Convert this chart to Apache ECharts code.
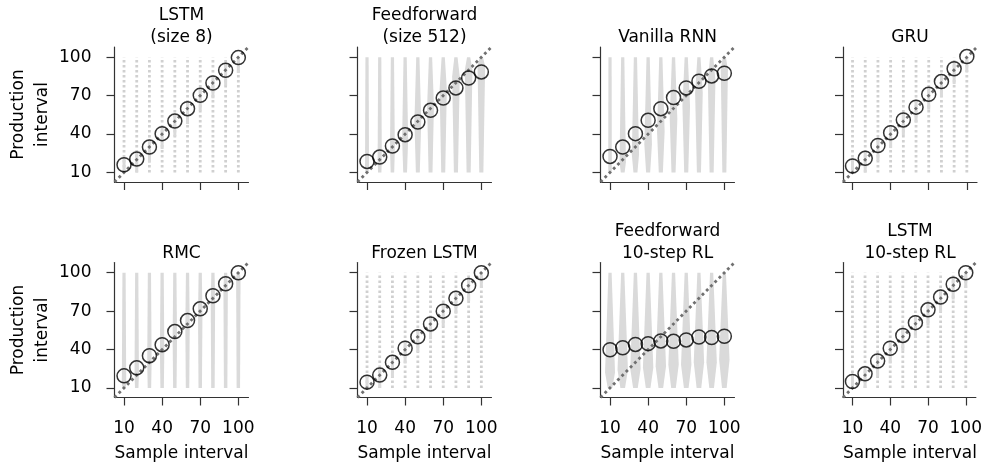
<!DOCTYPE html>
<html><head><meta charset="utf-8">
<script src="https://cdn.jsdelivr.net/npm/echarts@6/dist/echarts.min.js"></script>
<style>html,body{margin:0;padding:0;background:#fff}#c{width:985px;height:463px}</style>
</head><body><div id="c"></div>
<script>
// ---------------- data ----------------
const sampleIntervals = [10, 20, 30, 40, 50, 60, 70, 80, 90, 100];
const tickValues = [10, 40, 70, 100];
const axisRange = [2.5, 108];
const productionRange = [10, 100];
const titles = ['LSTM\n(size 8)', 'Feedforward\n(size 512)', 'Vanilla RNN', 'GRU',
                'RMC', 'Frozen LSTM', 'Feedforward\n10-step RL', 'LSTM\n10-step RL'];

const lstm8Means   = [16, 20.4, 29.8, 40.3, 50.1, 59.8, 70.2, 79.9, 89.8, 99.7];
const ff512Means   = [18.6, 22, 30.6, 39.5, 49.4, 58.5, 68.1, 76, 83.8, 88.5];
const vrnnMeans    = [22.5, 29.8, 40.3, 50.7, 59.8, 68.5, 76, 81.2, 85.4, 87.5];
const gruMeans     = [15, 21, 31, 41, 51, 61, 71, 81, 91, 100.5];
const rmcMeans     = [19.4, 25.7, 35.2, 43.8, 54, 62.6, 71.8, 82, 91.4, 100];
const frozenMeans  = [14.5, 20, 30, 41, 50, 60, 70, 80, 90, 100];
const ffRlMeans    = [39.8, 41.4, 44, 44.6, 46.7, 46.4, 47.5, 49.8, 49.4, 50.4];
const lstmRlMeans  = [15, 21, 31, 41, 51, 61, 71, 81, 91, 100];

// where the productions are densest, and how concentrated they are there (0..1)
const ff512Peaks   = [15, 20, 28, 36, 50, 62, 75, 85, 90, 93];
const ff512Spread  = [0.1, 0.12, 0.2, 0.35, 0.45, 0.45, 0.5, 0.55, 0.55, 0.55];
const vrnnPeaks    = [12, 18, 24, 32, 42, 52, 62, 72, 82, 90];
const vrnnSpread   = [0.05, 0.4, 0.5, 0.55, 0.55, 0.55, 0.55, 0.55, 0.55, 0.5];
const rmcPeaks     = [15, 21, 30, 39, 49, 58, 67, 77, 87, 95];
const rmcSpread    = [0.15, 0.15, 0.15, 0.15, 0.15, 0.15, 0.15, 0.15, 0.15, 0.15];
const ffRlPeaks    = [22, 24, 25, 26, 27, 28, 28, 30, 30, 32];
const ffRlSpread   = [0.85, 0.9, 0.9, 0.9, 0.9, 0.9, 0.9, 0.9, 0.9, 0.9];

const panelMeans  = [lstm8Means, ff512Means, vrnnMeans, gruMeans, rmcMeans, frozenMeans, ffRlMeans, lstmRlMeans];
const panelPeaks  = [lstm8Means, ff512Peaks, vrnnPeaks, gruMeans, rmcPeaks, frozenMeans, ffRlPeaks, lstmRlMeans];
const panelSpread = [null, ff512Spread, vrnnSpread, null, rmcSpread, null, ffRlSpread, null];

// ---------------- layout / style ----------------
const FONT = 'DejaVu Sans';
const lefts = [114.5, 357.5, 600.5, 843];
const tops = [47, 262.5];
const W = 134, H = 135;
const STREAK = '#dadada';

function violinItem(params, api) {
  const x = api.value(0), pk = api.value(1), s = api.value(2);
  const a = api.coord([x, productionRange[0]]);
  const m = api.coord([x, pk]);
  const b = api.coord([x, productionRange[1]]);
  const hw = f => 1.6 + s * 4 * f;
  const pts = [[a[0] - hw(0.2), a[1]], [m[0] - hw(1), m[1]], [b[0] - hw(0), b[1]],
               [b[0] + hw(0), b[1]], [m[0] + hw(1), m[1]], [a[0] + hw(0.2), a[1]]];
  return { type: 'polygon', shape: { points: pts }, style: { fill: STREAK } };
}
function dottedItem(params, api) {
  const x = api.value(0), pk = api.value(1);
  const a = api.coord([x, productionRange[0]]), b = api.coord([x, productionRange[1]]);
  const c1 = api.coord([x, Math.max(productionRange[0], pk - 12)]);
  const c2 = api.coord([x, Math.min(productionRange[1], pk + 6)]);
  return { type: 'group', children: [
    { type: 'line', shape: { x1: a[0], y1: a[1], x2: b[0], y2: b[1] },
      style: { stroke: '#d0d0d0', lineWidth: 2.8, lineDash: [2.4, 2.6] } },
    { type: 'rect', shape: { x: c1[0] - 1.5, y: c2[1], width: 3, height: c1[1] - c2[1] },
      style: { fill: STREAK } }
  ]};
}

const grid = [], xAxis = [], yAxis = [], series = [], graphic = [];
for (let i = 0; i < 8; i++) {
  const row = Math.floor(i / 4), col = i % 4;
  const left = lefts[col], top = tops[row];
  grid.push({ left: left, top: top, width: W, height: H });
  const axisCommon = {
    type: 'value', gridIndex: i, min: axisRange[0], max: axisRange[1],
    splitLine: { show: false },
    axisLine: { show: true, onZero: false, lineStyle: { color: '#333', width: 1.2 } },
    axisTick: { show: true, length: 8, customValues: tickValues, lineStyle: { color: '#333', width: 1.2 } },
  };
  xAxis.push(Object.assign({}, axisCommon, {
    axisLabel: { show: row === 1, customValues: tickValues, fontSize: 17, color: '#000', fontFamily: FONT, margin: 23 }
  }));
  yAxis.push(Object.assign({}, axisCommon, {
    axisLabel: { show: col === 0, customValues: tickValues, fontSize: 17, color: '#000', fontFamily: FONT, margin: 23 }
  }));
  const spread = panelSpread[i];
  series.push({
    type: 'custom', xAxisIndex: i, yAxisIndex: i, silent: true, z: 1, clip: true,
    renderItem: spread ? violinItem : dottedItem,
    data: sampleIntervals.map((x, j) => [x, panelPeaks[i][j], spread ? spread[j] : 0])
  });
  series.push({
    type: 'line', xAxisIndex: i, yAxisIndex: i, silent: true, z: 2, symbol: 'none',
    data: [[axisRange[0], axisRange[0]], [axisRange[1], axisRange[1]]],
    lineStyle: { color: '#707070', width: 2.8, type: [2.8, 3.2] }
  });
  series.push({
    type: 'scatter', xAxisIndex: i, yAxisIndex: i, silent: true, z: 3,
    symbol: 'circle', symbolSize: 14,
    data: sampleIntervals.map((x, j) => [x, panelMeans[i][j]]),
    itemStyle: { color: 'rgba(255,255,255,0)', borderColor: '#000', borderWidth: 1.5 }
  });
  graphic.push({
    type: 'text', x: left + W / 2, y: row === 0 ? 49 : 264.5, silent: true,
    style: { text: titles[i], textAlign: 'center', textVerticalAlign: 'bottom',
             fontSize: 17, fontFamily: FONT, fill: '#000', lineHeight: 22 }
  });
  if (row === 1) {
    graphic.push({
      type: 'text', x: left + W / 2, y: 454, silent: true,
      style: { text: 'Sample interval', textAlign: 'center', textVerticalAlign: 'middle',
               fontSize: 17, fontFamily: FONT, fill: '#000' }
    });
  }
  if (col === 0) {
    graphic.push({
      type: 'text', x: 31, y: top + H / 2, rotation: Math.PI / 2, silent: true,
      style: { text: 'Production\ninterval', textAlign: 'center', textVerticalAlign: 'middle',
               fontSize: 17, fontFamily: FONT, fill: '#000', lineHeight: 24 }
    });
  }
}

const chart = echarts.init(document.getElementById('c'), null, { renderer: 'canvas' });
chart.setOption({ animation: false, backgroundColor: '#fff', grid, xAxis, yAxis, series, graphic });
</script>
</body></html>
